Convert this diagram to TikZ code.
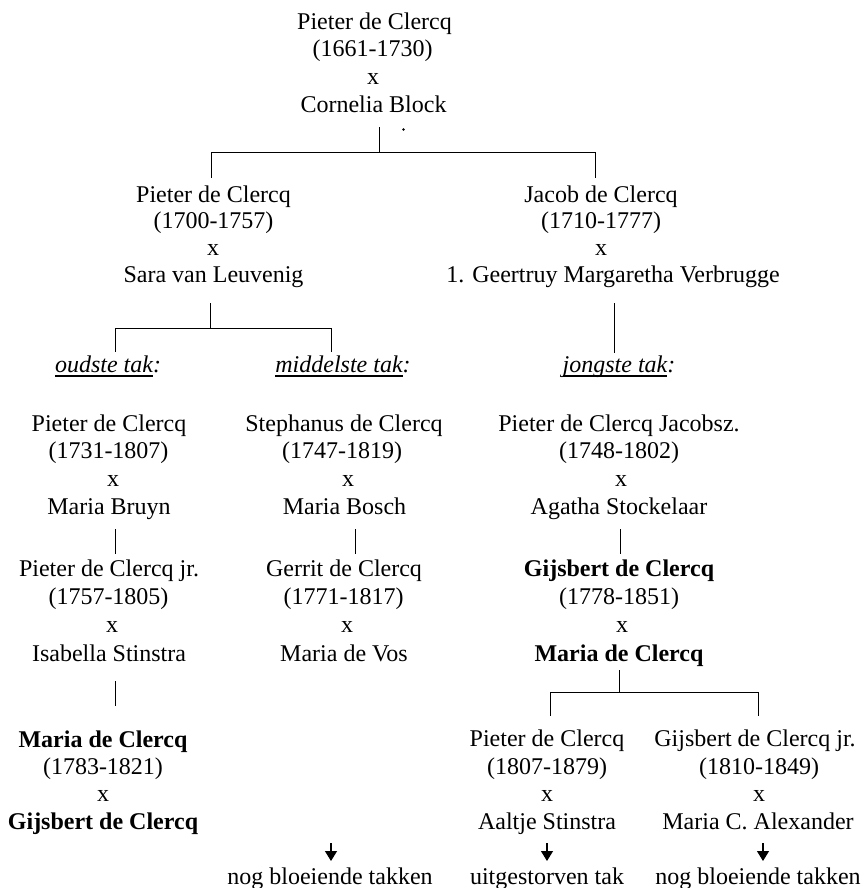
\documentclass[tikz,border=0pt]{standalone}
\usepackage{fontspec}
\setmainfont{Liberation Serif}
\usetikzlibrary{arrows.meta}
\newcommand\myul[1]{\setbox0\hbox{#1}\rlap{\rule[-4.8pt]{\wd0}{1.5pt}}\box0}
\begin{document}
\begin{tikzpicture}[x=1pt,y=-1pt,
  t/.style={anchor=base,inner sep=0pt,font=\fontsize{24}{27}\selectfont},
  tb/.style={t,font=\fontsize{24}{27}\selectfont\bfseries},
  ln/.style={line width=1pt,line cap=rect},
  arr/.style={line width=1.2pt,-{Triangle[width=12pt,length=10pt]}}]
\fill[white] (0,0) rectangle (863,888);
\useasboundingbox (0,0) rectangle (863,888);

% generation 1
\node[t] (g1a) at (374.5,30) {Pieter de Clercq};
\node[t] (g1b) at (372.5,57) {(1661-1730)};
\node[t] (g1c) at (373,85) {x};
\node[t] (g1d) at (373.5,113) {Cornelia Block};
\coordinate (dot) at (403.5,129.5);
\fill (dot) circle (1.3pt);

% generation 2
\node[t] (p2a) at (213.5,202) {Pieter de Clercq};
\node[t] (p2b) at (213.5,228.5) {(1700-1757)};
\node[t] (p2c) at (213,255) {x};
\node[t] (p2d) at (213.5,282) {Sara van Leuvenig};
\node[t] (j2a) at (601,202) {Jacob de Clercq};
\node[t] (j2b) at (601,228.5) {(1710-1777)};
\node[t] (j2c) at (601,255) {x};
\node[t] (j2d) at (613,282) {1. Geertruy Margaretha Verbrugge};

% branch labels
\node[t] (tak1) at (108,372) {\myul{\itshape oudste tak}\textit{:}};
\node[t] (tak2) at (343,372) {\myul{\itshape middelste tak}\textit{:}};
\node[t] (tak3) at (619,372) {\myul{\itshape jongste tak}\textit{:}};

% generation 3
\node[t] (a3a) at (109,431) {Pieter de Clercq};
\node[t] (a3b) at (108.5,458.5) {(1731-1807)};
\node[t] (a3c) at (113,486) {x};
\node[t] (a3d) at (109,514) {Maria Bruyn};
\node[t] (b3a) at (344,431) {Stephanus de Clercq};
\node[t] (b3b) at (342,458.5) {(1747-1819)};
\node[t] (b3c) at (348,486) {x};
\node[t] (b3d) at (344.5,514) {Maria Bosch};
\node[t] (c3a) at (619,431) {Pieter de Clercq Jacobsz.};
\node[t] (c3b) at (619,458.5) {(1748-1802)};
\node[t] (c3c) at (621,486) {x};
\node[t] (c3d) at (619,514) {Agatha Stockelaar};

% generation 4
\node[t] (a4a) at (109,576) {Pieter de Clercq jr.};
\node[t] (a4b) at (108.5,604) {(1757-1805)};
\node[t] (a4c) at (112,632) {x};
\node[t] (a4d) at (109,661) {Isabella Stinstra};
\node[t] (b4a) at (344,576) {Gerrit de Clercq};
\node[t] (b4b) at (343.5,604) {(1771-1817)};
\node[t] (b4c) at (347,632) {x};
\node[t] (b4d) at (344,661) {Maria de Vos};
\node[tb] (c4a) at (619,576) {Gijsbert de Clercq};
\node[t] (c4b) at (619,604) {(1778-1851)};
\node[t] (c4c) at (622,632) {x};
\node[tb] (c4d) at (619,661) {Maria de Clercq};

% generation 5
\node[tb] (a5a) at (103,747) {Maria de Clercq};
\node[t] (a5b) at (103,774) {(1783-1821)};
\node[t] (a5c) at (103,801) {x};
\node[tb] (a5d) at (103,829) {Gijsbert de Clercq};
\node[t] (d5a) at (547,746) {Pieter de Clercq};
\node[t] (d5b) at (547,774) {(1807-1879)};
\node[t] (d5c) at (547,801) {x};
\node[t] (d5d) at (547,829) {Aaltje Stinstra};
\node[t] (e5a) at (755,746) {Gijsbert de Clercq jr.};
\node[t] (e5b) at (759,774) {(1810-1849)};
\node[t] (e5c) at (759,801) {x};
\node[t] (e5d) at (758,829) {Maria C. Alexander};

% endings
\node[t] (endb) at (330,884) {nog bloeiende takken};
\node[t] (endd) at (547,884) {uitgestorven tak};
\node[t] (ende) at (758,884) {nog bloeiende takken};

% connector coordinates
\coordinate (k1t) at (379,128);
\coordinate (k1m) at (379,152);
\coordinate (k1l) at (211,152);
\coordinate (k1r) at (595,152);
\coordinate (k1lb) at (211,177);
\coordinate (k1rb) at (595,177);

\coordinate (k2t) at (210,303);
\coordinate (k2m) at (210,328);
\coordinate (k2l) at (115,328);
\coordinate (k2r) at (331,328);
\coordinate (k2lb) at (115,351);
\coordinate (k2rb) at (331,351);

\coordinate (k3t) at (614,303);
\coordinate (k3b) at (614,352);

\coordinate (v1t) at (115,529);
\coordinate (v1b) at (115,553);
\coordinate (v2t) at (355,529);
\coordinate (v2b) at (355,553);
\coordinate (v3t) at (620,529);
\coordinate (v3b) at (620,553);
\coordinate (v4t) at (115,681);
\coordinate (v4b) at (115,705);

\coordinate (k4t) at (619,670);
\coordinate (k4m) at (619,692);
\coordinate (k4l) at (550,692);
\coordinate (k4r) at (758,692);
\coordinate (k4lb) at (550,715);
\coordinate (k4rb) at (758,715);

\coordinate (ar1t) at (331,843);
\coordinate (ar1b) at (331,861);
\coordinate (ar2t) at (547,843);
\coordinate (ar2b) at (547,861);
\coordinate (ar3t) at (763,843);
\coordinate (ar3b) at (763,861);

% connectors
\draw[ln] (k1t) -- (k1m);
\draw[ln] (k1lb) -- (k1l) -- (k1r) -- (k1rb);
\draw[ln] (k2t) -- (k2m);
\draw[ln] (k2lb) -- (k2l) -- (k2r) -- (k2rb);
\draw[ln] (k3t) -- (k3b);
\draw[ln] (v1t) -- (v1b);
\draw[ln] (v2t) -- (v2b);
\draw[ln] (v3t) -- (v3b);
\draw[ln] (v4t) -- (v4b);
\draw[ln] (k4t) -- (k4m);
\draw[ln] (k4lb) -- (k4l) -- (k4r) -- (k4rb);
\draw[arr] (ar1t) -- (ar1b);
\draw[arr] (ar2t) -- (ar2b);
\draw[arr] (ar3t) -- (ar3b);
\end{tikzpicture}
\end{document}
